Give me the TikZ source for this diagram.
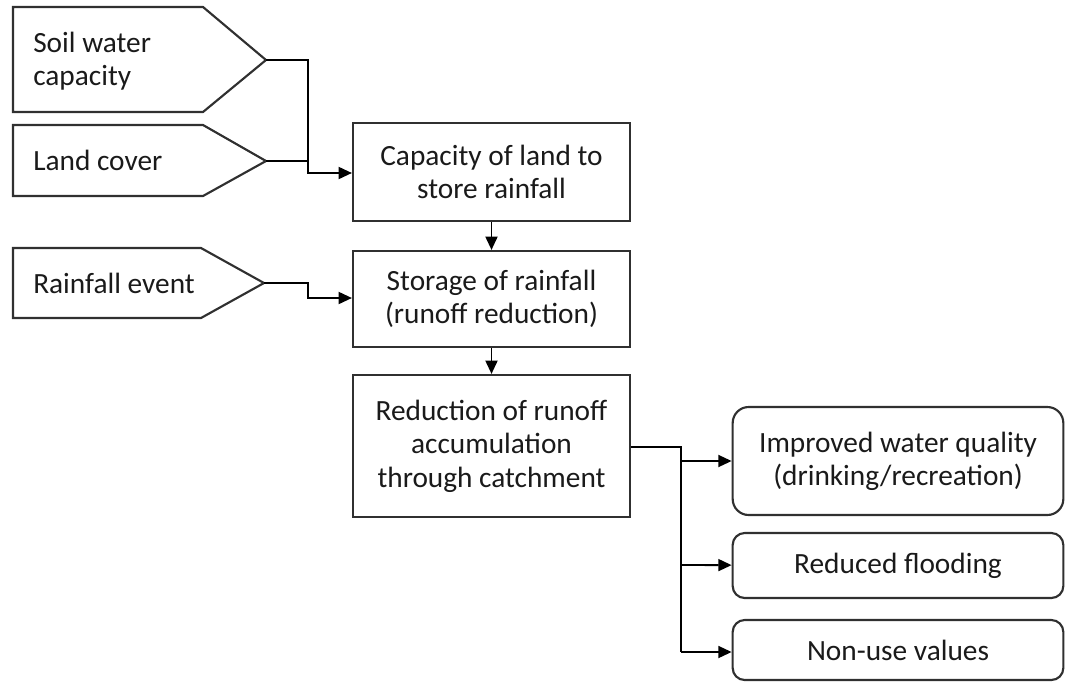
\documentclass[tikz,border=0pt]{standalone}
\usepackage{fontspec}
\setmainfont{Carlito}
\usetikzlibrary{arrows.meta}
\definecolor{ln}{HTML}{303030}
\definecolor{tx}{HTML}{1A1A1A}
\begin{document}
\begin{tikzpicture}[x=0.75pt,y=-0.75pt,
  shp/.style={draw=ln,line width=1.6pt,line join=miter},
  box/.style={draw=ln,line width=1.6pt,rectangle,align=center,inner sep=0pt,text=tx,font=\fontsize{22}{25}\selectfont},
  rbox/.style={box,rounded corners=9pt},
  lbl/.style={align=left,anchor=west,inner sep=0pt,text=tx,font=\fontsize{22}{25}\selectfont},
  conn/.style={draw=black,line width=1.4pt},
  arr/.style={conn,-{Triangle[length=10pt,width=9pt]}}]
\useasboundingbox (0,0) rectangle (1066,682);
% pentagons
\draw[shp] (13,7) -- (203,7) -- (266,60) -- (203,112) -- (13,112) -- cycle;
\coordinate (soilTip) at (266,60);
\node[lbl] (soil) at (33,61) {Soil water\\capacity};
\draw[shp] (13,125) -- (203,125) -- (266,161) -- (203,196) -- (13,196) -- cycle;
\coordinate (landTip) at (266,161);
\node[lbl] (land) at (33,160) {Land cover};
\draw[shp] (13,248) -- (201,248) -- (264,283) -- (201,318) -- (13,318) -- cycle;
\coordinate (rainTip) at (264,283);
\node[lbl] (rain) at (33,283) {Rainfall event};
% boxes
\node[box,minimum width=207.75pt,minimum height=73.5pt] (cap) at (491.5,172) {Capacity of land to\\store rainfall};
\node[box,minimum width=207.75pt,minimum height=72pt] (stor) at (491.5,299) {Storage of rainfall\\(runoff reduction)};
\node[box,minimum width=207.75pt,minimum height=106.5pt] (red) at (491.5,446) {Reduction of runoff\\accumulation\\through catchment};
\node[rbox,rounded corners=12pt,minimum width=248pt,minimum height=81pt] (wq) at (898,461) {Improved water quality\\(drinking/recreation)};
\node[rbox,minimum width=248pt,minimum height=48.75pt] (fl) at (898,565.5) {Reduced flooding};
\node[rbox,minimum width=248pt,minimum height=45pt] (nu) at (898,650) {Non-use values};
% connectors
\coordinate (j1) at (308,60);
\coordinate (j2) at (681,447);
\draw[conn] (soilTip) -- (j1) |- (landTip);
\draw[arr] (j1) |- (cap.west |- 0,173);
\draw[arr] (rainTip) -- (308,283) |- (stor.west |- 0,298);
\draw[arr] (cap) -- (stor);
\draw[arr] (stor) -- (red);
\draw[conn] (red.east |- j2) -- (j2) -- (681,652);
\draw[arr] (681,461) -- (wq.west |- 0,461);
\draw[arr] (681,565) -- (fl);
\draw[arr] (681,652) -- (nu.west |- 0,652);
\end{tikzpicture}
\end{document}
